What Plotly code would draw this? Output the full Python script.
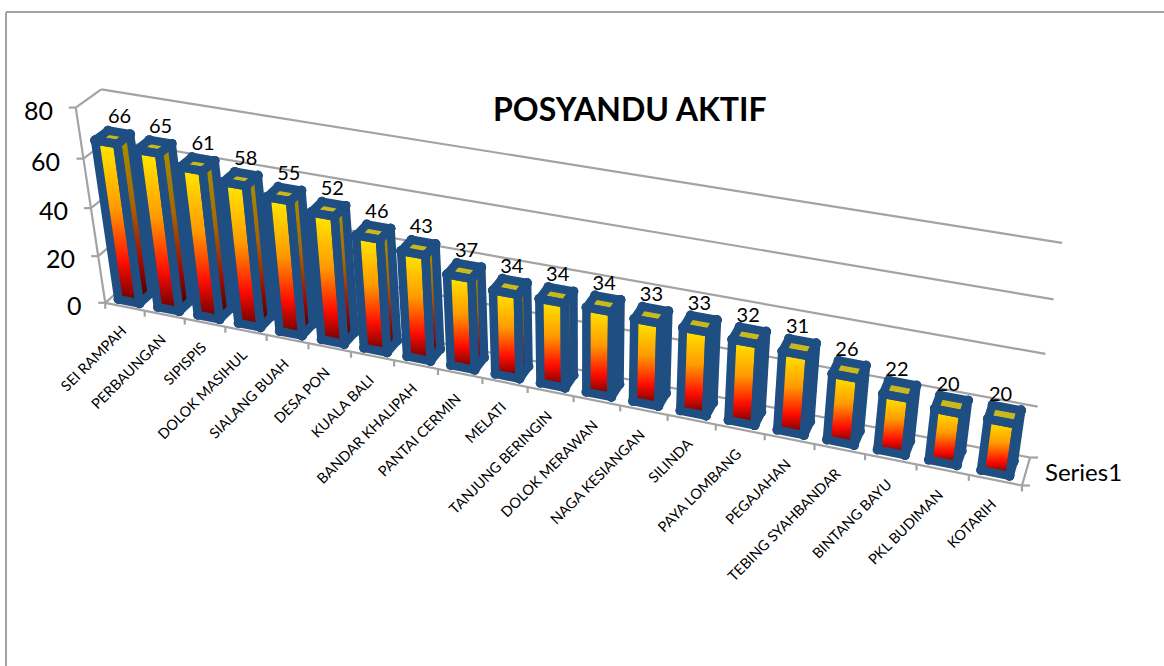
"""POSYANDU AKTIF, a perspective 3D column chart drawn on plain cartesian axes."""

import numpy as np
import plotly.graph_objects as go

categories = [
    "SEI RAMPAH", "PERBAUNGAN", "SIPISPIS", "DOLOK MASIHUL", "SIALANG BUAH",
    "DESA PON", "KUALA BALI", "BANDAR KHALIPAH", "PANTAI CERMIN", "MELATI",
    "TANJUNG BERINGIN", "DOLOK MERAWAN", "NAGA KESIANGAN", "SILINDA", "PAYA LOMBANG",
    "PEGAJAHAN", "TEBING SYAHBANDAR", "BINTANG BAYU", "PKL BUDIMAN", "KOTARIH",
]
values = [66, 65, 61, 58, 55, 52, 46, 43, 37, 34, 34, 34, 33, 33, 32, 31, 26, 22, 20, 20]
value_ticks = [0, 20, 40, 60, 80]
series_name = "Series1"
title = "POSYANDU AKTIF"

VALUE_MAX = 80
BLUE = "#1F4F82"
GREY = "#A3A3A3"
FONT = "Lato"
STROKE = 8.5

# box corners (category, depth, value) -> where they sit on the page
BOX_CORNERS = [
    ((0, 0, 0), (105, 302)),
    ((1, 0, 0), (1022, 486)),
    ((1, 1, 0), (1030, 457)),
    ((1, 1, 1), (1062, 243)),
    ((0, 0, 1), (76, 108)),
    ((0, 1, 1), (101, 89)),
    ((0, 1, 0), (129, 283)),
]

FRONT_SCALE = [[0, "#FFE800"], [0.1, "#FFD800"], [0.42, "#FF9A00"], [0.75, "#FF0C00"], [1, "#640000"]]
SIDE_SCALE = [[0, "#A89400"], [0.42, "#A86400"], [0.75, "#A00A00"], [1, "#3C0000"]]


def _fit_projection():
    rows = []
    for (u, v, w), (px, py) in BOX_CORNERS:
        rows.append([u, v, w, 1, 0, 0, 0, 0, -px * u, -px * v, -px * w, -px])
        rows.append([0, 0, 0, 0, u, v, w, 1, -py * u, -py * v, -py * w, -py])
    return np.linalg.svd(np.array(rows, float))[2][-1].reshape(3, 4)


PROJ = _fit_projection()


def project(u, v, w):
    h = PROJ @ np.array([u, v, w, 1.0])
    return h[0] / h[2], h[1] / h[2]


def poly(points):
    xy = [project(*p) for p in points]
    xy.append(xy[0])
    return [p[0] for p in xy], [p[1] for p in xy]


def segments(pairs):
    xs, ys = [], []
    for (x0, y0), (x1, y1) in pairs:
        xs += [x0, x1, None]
        ys += [y0, y1, None]
    return xs, ys


fig = go.Figure()

# walls and floor
frame = []
for tick in value_ticks:
    w = tick / VALUE_MAX
    frame.append((project(0, 0, w), project(0, 1, w)))
    frame.append((project(0, 1, w), project(1, 1, w)))
    x0, y0 = project(0, 0, w)
    frame.append(((x0 - 7, y0), (x0, y0)))
frame.append((project(0, 0, 0), project(0, 0, 1)))
frame.append((project(0, 0, 0), project(1, 0, 0)))
frame.append((project(1, 0, 0), project(1, 1, 0)))
for i in range(len(categories) + 1):
    x0, y0 = project(i / len(categories), 0, 0)
    frame.append(((x0, y0), (x0, y0 + 6)))
for v in (0, 1):
    x0, y0 = project(1, v, 0)
    frame.append(((x0, y0), (x0 + 8, y0)))
xs, ys = segments(frame)
fig.add_trace(go.Scatter(x=xs, y=ys, mode="lines", line=dict(color=GREY, width=2.2), hoverinfo="skip"))

# columns, left to right because the right end is nearer the viewer
n = len(categories)
BAR_L, BAR_R = 0.19, 0.73
DEPTH_F, DEPTH_B = 0.24, 0.76
for i, value in enumerate(values):
    u0, u1 = (i + BAR_L) / n, (i + BAR_R) / n
    w = value / VALUE_MAX
    side = poly([(u1, DEPTH_F, 0), (u1, DEPTH_B, 0), (u1, DEPTH_B, w), (u1, DEPTH_F, w)])
    front = poly([(u0, DEPTH_F, 0), (u1, DEPTH_F, 0), (u1, DEPTH_F, w), (u0, DEPTH_F, w)])
    top = poly([(u0, DEPTH_F, w), (u1, DEPTH_F, w), (u1, DEPTH_B, w), (u0, DEPTH_B, w)])
    for (fx, fy), scale in ((side, SIDE_SCALE), (front, FRONT_SCALE)):
        fig.add_trace(
            go.Scatter(
                x=fx, y=fy, mode="none", fill="toself",
                fillgradient=dict(type="vertical", colorscale=scale, start=min(fy), stop=max(fy)),
                hoverinfo="skip",
            )
        )
    fig.add_trace(go.Scatter(x=top[0], y=top[1], mode="none", fill="toself", fillcolor="#C9B81E", hoverinfo="skip"))

    # edges one by one, the dots at the corners give the round joins
    edges = []
    for fx, fy in (side, front, top):
        edges += [((fx[k], fy[k]), (fx[k + 1], fy[k + 1])) for k in range(4)]
    ex, ey = segments(edges)
    fig.add_trace(
        go.Scatter(
            x=ex, y=ey, mode="lines+markers",
            line=dict(color=BLUE, width=STROKE),
            marker=dict(color=BLUE, size=STROKE + 1),
            hoverinfo="skip",
        )
    )

# data labels, Excel spreads them a little narrower than the columns
label_pts = [project((i + (BAR_L + BAR_R) / 2) / n, 0.5, val / VALUE_MAX) for i, val in enumerate(values)]
fig.add_trace(
    go.Scatter(
        x=[p[0] + 7 - 11 * k / (n - 1) for k, p in enumerate(label_pts)],
        y=[p[1] - 9 for p in label_pts],
        mode="text",
        text=[str(val) for val in values],
        textposition="top center",
        textfont=dict(family=FONT, size=20, color="#000000"),
        hoverinfo="skip",
    )
)

annotations = []
for i, name in enumerate(categories):
    x0, y0 = project((i + 0.5) / n, 0, 0)
    annotations.append(
        dict(x=x0 + 7, y=y0 + 13, text=name, textangle=-45, xanchor="right", yanchor="top",
             showarrow=False, font=dict(family=FONT, size=14.5, color="#000000"))
    )
for tick in value_ticks:
    x0, y0 = project(0, 0, tick / VALUE_MAX)
    annotations.append(
        dict(x=x0 - 21, y=y0 + 2, text=str(tick), xanchor="right", yanchor="middle",
             showarrow=False, font=dict(family=FONT, size=25, color="#000000"))
    )
annotations.append(
    dict(x=630, y=108, text=f"<b>{title}</b>", xanchor="center", yanchor="middle",
         showarrow=False, font=dict(family=FONT, size=32, color="#000000"))
)
sx, sy = project(1, 0.5, 0)
annotations.append(
    dict(x=sx + 17, y=sy, text=series_name, xanchor="left", yanchor="middle",
         showarrow=False, font=dict(family=FONT, size=24, color="#000000"))
)

fig.update_xaxes(range=[0, 1164], visible=False)
fig.update_yaxes(range=[666, 0], visible=False)
fig.update_layout(
    width=1164,
    height=666,
    margin=dict(l=0, r=0, t=0, b=0),
    paper_bgcolor="#FFFFFF",
    plot_bgcolor="#FFFFFF",
    showlegend=False,
    hovermode=False,
    annotations=annotations,
    shapes=[
        dict(type="line", x0=6, x1=6, y0=12, y1=666, line=dict(color=GREY, width=2)),
        dict(type="line", x0=6, x1=1164, y0=12, y1=12, line=dict(color=GREY, width=2)),
    ],
)

# the page's default body margin would push the chart 8px off the reference
fig.write_html("out.html", config={"displayModeBar": False}, post_script="document.body.style.margin = '0';")
